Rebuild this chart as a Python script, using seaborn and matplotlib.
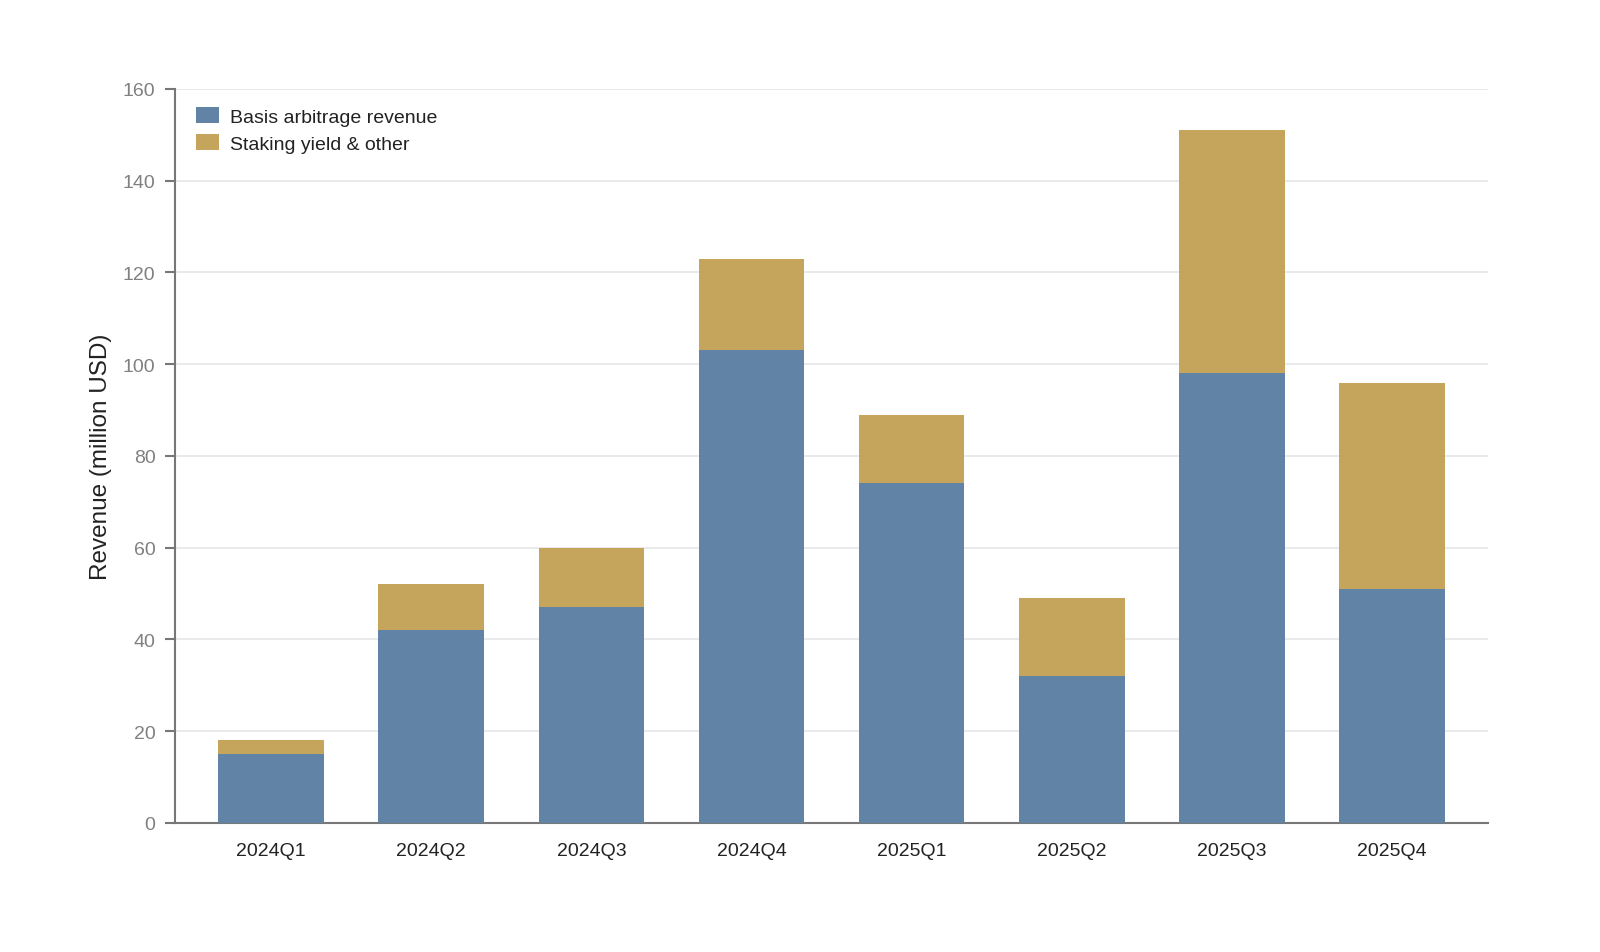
import matplotlib
matplotlib.use("Agg")
import matplotlib.pyplot as plt
import seaborn as sns
import pandas as pd
import numpy as np

quarters = ["2024Q1", "2024Q2", "2024Q3", "2024Q4",
            "2025Q1", "2025Q2", "2025Q3", "2025Q4"]
basis_revenue = [15, 42, 47, 103, 74, 32, 98, 51]
staking_other = [3, 10, 13, 20, 15, 17, 53, 45]

blue = "#6183a6"
gold = "#c5a55b"

sns.set_theme(style="white")
plt.rcParams["font.family"] = ["Liberation Sans", "DejaVu Sans"]

df = pd.DataFrame({"quarter": quarters,
                   "basis": basis_revenue,
                   "staking": staking_other})
df["total"] = df["basis"] + df["staking"]

fig = plt.figure(figsize=(16, 9.53), dpi=100)
ax = fig.add_axes([0.1094, 0.1354, 0.8206, 0.7702])

# total first, basis drawn over it -> stacked look
sns.barplot(data=df, x="quarter", y="total", color=gold, width=0.66,
            saturation=1, ax=ax, label="Staking yield & other", zorder=2,
            edgecolor="none", linewidth=0)
sns.barplot(data=df, x="quarter", y="basis", color=blue, width=0.66,
            saturation=1, ax=ax, label="Basis arbitrage revenue", zorder=3,
            edgecolor="none", linewidth=0)

ax.set_ylim(0, 160)
ax.set_xlim(-0.6, 7.6)
ax.set_yticks(np.arange(0, 161, 20))
ax.yaxis.grid(True, color="#e6e6e6", linewidth=1.2, zorder=0)
ax.set_axisbelow(True)

for side in ["top", "right"]:
    ax.spines[side].set_visible(False)
for side in ["left", "bottom"]:
    ax.spines[side].set_color("#777777")
    ax.spines[side].set_linewidth(1.5)

ax.tick_params(axis="y", which="both", left=True, length=7, width=1.5,
               color="#777777", labelcolor="#808080", labelsize=14, pad=7)
ax.tick_params(axis="x", bottom=False, labelcolor="#222222", labelsize=14, pad=8)

ax.set_xlabel("")
ax.set_ylabel("Revenue (million USD)", fontsize=17.5, color="#222222", labelpad=8)

handles, labels = ax.get_legend_handles_labels()
order = [labels.index("Basis arbitrage revenue"), labels.index("Staking yield & other")]
ax.legend([handles[i] for i in order], [labels[i] for i in order],
          loc="upper left", bbox_to_anchor=(0.003, 0.999), frameon=False,
          fontsize=14, handlelength=1.15, handleheight=0.9, labelspacing=0.4,
          handletextpad=0.55, labelcolor="#222222")

fig.savefig("out.png", dpi=100)
